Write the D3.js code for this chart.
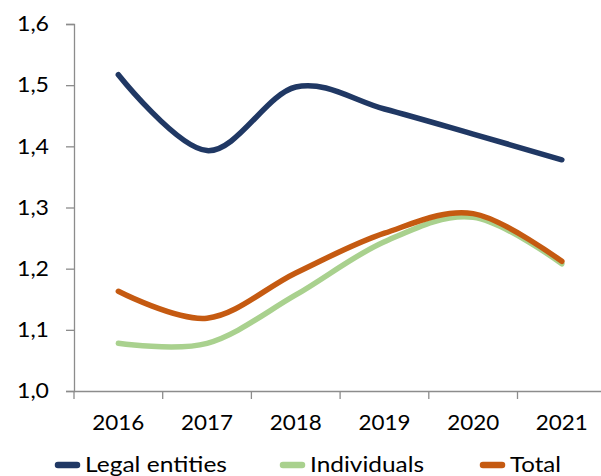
<!DOCTYPE html>
<html><head><meta charset="utf-8">
<script src="https://cdn.jsdelivr.net/npm/d3@7"></script>
<style>body{margin:0;background:#fff}svg{display:block}</style>
</head><body>
<svg id="c" width="601" height="476"></svg>
<script>
const years = ["2016","2017","2018","2019","2020","2021"];
const legalEntities = [1.517, 1.393, 1.497, 1.461, 1.420, 1.378];
const individuals = [1.078, 1.078, 1.157, 1.244, 1.284, 1.208];
const total = [1.163, 1.119, 1.193, 1.258, 1.290, 1.212];
const yTicks = [1.0, 1.1, 1.2, 1.3, 1.4, 1.5, 1.6];
const seriesNames = ["Legal entities", "Individuals", "Total"];
const seriesColors = ["#203864", "#A9D18E", "#C55A11"];

const series = [legalEntities, individuals, total];
const svg = d3.select("#c");
const font = "Lato, 'Open Sans', sans-serif";
const axisColor = "#8c8c8c";

const x = d3.scaleBand().domain(years).range([74, 74 + 88.7 * 6]);
const y = d3.scaleLinear().domain([1.0, 1.6]).range([391, 24]);

// y axis
const ya = svg.append("g").attr("transform", "translate(74,0)")
  .call(d3.axisLeft(y).tickValues(yTicks).tickSize(8).tickPadding(17)
    .tickFormat(d => d3.format(".1f")(d).replace(".", ",")));
ya.select(".domain").attr("stroke", axisColor).attr("stroke-width", 1.3);
ya.selectAll(".tick line").attr("stroke", axisColor).attr("stroke-width", 1.3);
ya.selectAll("text").attr("font-family", font).attr("font-size", 21).attr("fill", "#000")
  .attr("textLength", 32).attr("lengthAdjust", "spacingAndGlyphs");

// x axis
const xa = svg.append("g").attr("transform", "translate(0,391)")
  .call(d3.axisBottom(x).tickSize(0).tickPadding(24));
xa.select(".domain").attr("stroke", axisColor).attr("stroke-width", 1.3);
xa.selectAll("text").attr("font-family", font).attr("font-size", 21).attr("fill", "#000")
  .attr("textLength", 52).attr("lengthAdjust", "spacingAndGlyphs");
// category boundary ticks
const bounds = years.map(d => x(d)).concat([x(years[years.length-1]) + x.bandwidth()]);
xa.selectAll(".bt").data(bounds).enter().append("line")
  .attr("x1", d => d).attr("x2", d => d).attr("y1", 0).attr("y2", 8)
  .attr("stroke", axisColor).attr("stroke-width", 1.3);

const line = d3.line()
  .x((d, i) => x(years[i]) + x.bandwidth() / 2)
  .y(d => y(d))
  .curve(d3.curveCardinal.tension(0));

[1, 2, 0].forEach(k => {
  svg.append("path").datum(series[k])
    .attr("d", line).attr("fill", "none")
    .attr("stroke", seriesColors[k]).attr("stroke-width", 5.5)
    .attr("stroke-linecap", "round").attr("stroke-linejoin", "round");
});

// legend
const legendX = [55, 280, 480];
const legendW = [142, 114, 51];
const lg = svg.append("g");
seriesNames.forEach((n, i) => {
  lg.append("line").attr("x1", legendX[i] + 3).attr("x2", legendX[i] + 22)
    .attr("y1", 465).attr("y2", 465)
    .attr("stroke", seriesColors[i]).attr("stroke-width", 6.5).attr("stroke-linecap", "round");
  lg.append("text").attr("x", legendX[i] + 30).attr("y", 472)
    .attr("font-family", font).attr("font-size", 22).attr("fill", "#000")
    .attr("textLength", legendW[i]).attr("lengthAdjust", "spacingAndGlyphs").text(n);
});
</script>
</body></html>
